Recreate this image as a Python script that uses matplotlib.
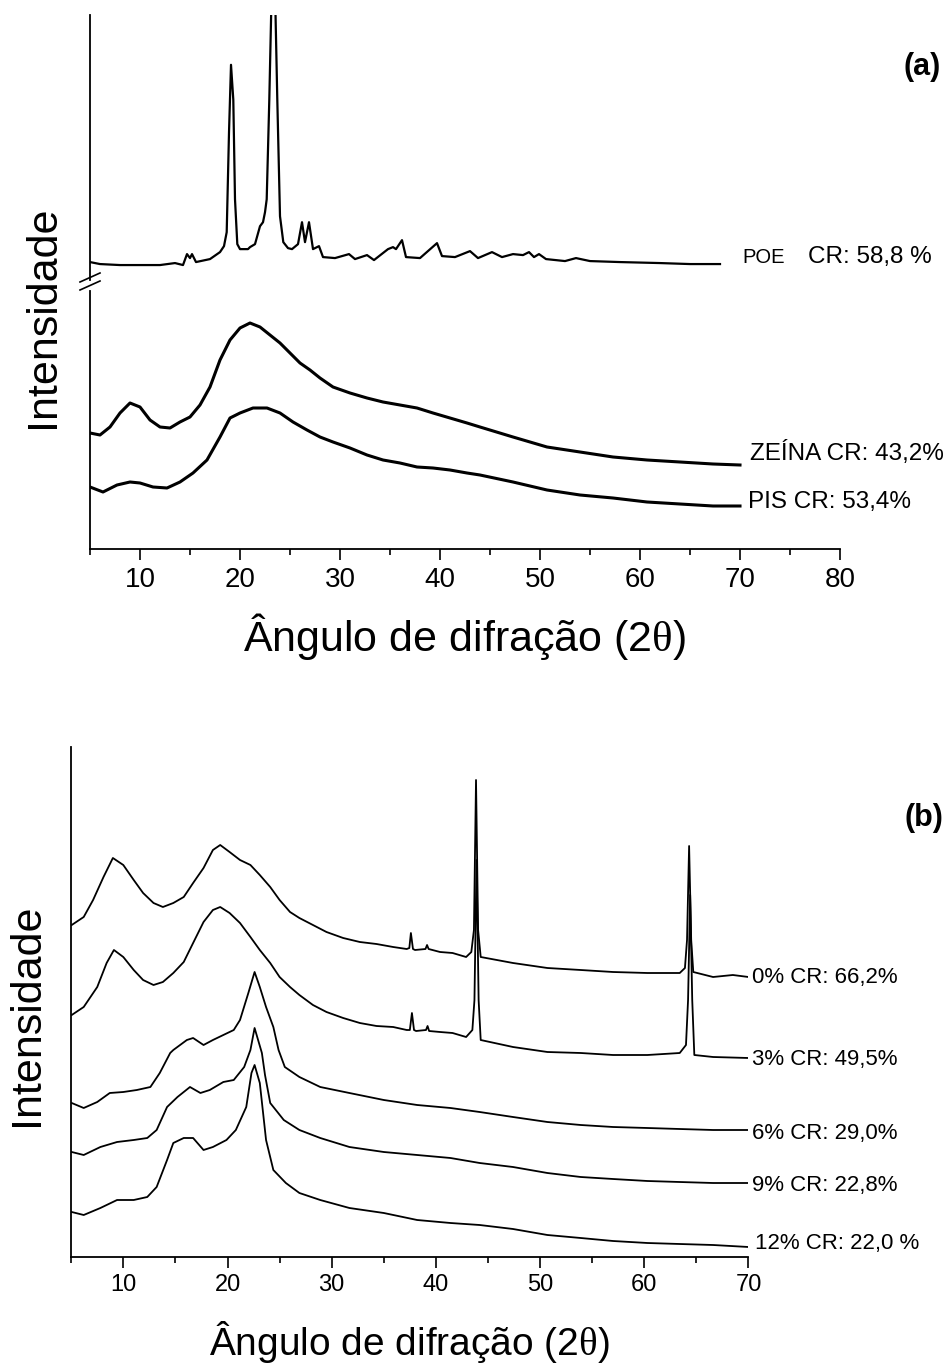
import numpy as np
import matplotlib
matplotlib.use('Agg')
import matplotlib.pyplot as plt
from matplotlib.ticker import MultipleLocator

plt.rcParams['font.family'] = ['Liberation Sans', 'DejaVu Sans']
plt.rcParams['mathtext.fontset'] = 'custom'
plt.rcParams['mathtext.rm'] = 'Liberation Serif'
plt.rcParams['mathtext.it'] = 'Liberation Serif'

# ---- panel (a) data, intensity in arbitrary units ----
poe_x = [5, 6, 8, 10, 12, 13.5, 14.3, 14.7, 15.0, 15.2, 15.6, 17, 18, 18.4, 18.67, 18.9, 19.1, 19.33,
         19.5, 19.73, 20.0, 20.8, 21.0, 21.5, 22.0, 22.3, 22.5, 22.67, 22.93, 23.17, 23.5, 23.73,
         24.0, 24.33, 24.8, 25.2, 25.8, 26.2, 26.5, 26.9, 27.3, 27.9, 28.3, 29.5, 30.9, 31.5, 32.7,
         33.4, 34.8, 35.3, 35.6, 36.2, 36.6, 38, 39.7, 40.2, 41.5, 43.0, 43.8, 45.2, 46.2, 47.3,
         48.3, 48.9, 49.4, 49.9, 50.6, 52.5, 53.6, 55, 58, 62, 65, 68]
poe_y = [286, 284, 283, 283, 283, 285, 283, 294, 290, 294, 286, 289, 296, 302, 316, 416, 484, 449,
         349, 304, 299, 299, 301, 304, 322, 326, 336, 349, 449, 560, 560, 449,
         332, 306, 300, 299, 304, 326, 306, 326, 299, 302, 291, 290, 294, 289, 293,
         288, 299, 301, 299, 308, 291, 290, 305, 292, 291, 297, 290, 296, 291, 294,
         293, 296, 291, 294, 289, 287, 290, 287, 286, 285, 284, 284]

zeina_x = [5.0, 6.0, 7.0, 8.0, 9.0, 10, 11, 12, 13, 14, 15, 16, 17, 18, 19, 20, 21, 22, 23, 24, 25,
           26, 27, 28, 29.3, 31, 32.7, 34.3, 36, 37.7, 39.3, 41, 42.7, 44, 47.3, 50.7, 54, 57.3,
           60.7, 64, 67.3, 70]
zeina_y = [116, 114, 122, 136, 146, 142, 129, 122, 121, 127, 132, 144, 162, 189, 209, 221, 226, 222,
           214, 206, 196, 186, 179, 171, 162, 156, 151, 147, 144, 141, 136, 131, 126, 122, 112, 102,
           97, 92, 89, 87, 85, 84]

pis_x = [5, 6.3, 7.7, 9.0, 10, 11.3, 12.7, 14, 15.3, 16.7, 18, 19, 20, 21.3, 22.7, 24, 25.3, 26.7,
         28, 29.3, 31, 32.7, 34.3, 36, 37.7, 39.3, 41, 42.7, 44, 47.3, 50.7, 54, 57.3, 60.7, 64,
         67.3, 70]
pis_y = [62, 57, 64, 67, 66, 62, 61, 67, 76, 89, 112, 131, 136, 141, 141, 136, 127, 119,
         112, 107, 101, 94, 89, 86, 82, 81, 79, 76, 74, 67, 59, 54, 51, 47, 45, 43, 43]

# ---- panel (b) data ----
s0_x = [5.05, 6.2, 7.1, 8.1, 9.0, 10.0, 11.0, 11.9, 12.9, 13.8, 14.8, 15.8, 16.7, 17.7, 18.6, 19.3,
        20.2, 21.2, 22.2, 23.1, 24.1, 25.0, 26.0, 26.9, 28.2, 29.5, 31.1, 32.7, 34.3, 35.9, 37.2,
        37.45, 37.6, 37.8, 38.0, 39.0, 39.15, 39.3, 40.4, 41.6, 42.9, 43.4, 43.65, 43.85, 44.05,
        44.3, 47.4, 50.7, 53.9, 57.0, 60.3, 63.4, 63.9, 64.1, 64.3, 64.5, 64.7, 66.6, 68.5, 70]
s0_y = [332, 340, 357, 380, 399, 392, 377, 364, 354, 350, 354, 360, 374, 389, 407, 412,
        405, 397, 392, 382, 370, 357, 345, 339, 332, 325, 319, 315, 313, 310, 308,
        309, 324, 308, 307, 308, 312, 308, 305, 304, 300, 305, 327, 477, 327,
        300, 294, 289, 287, 285, 284, 284, 289, 317, 411, 317, 285, 280, 282, 280]

s3_x = [5.05, 6.2, 7.5, 8.4, 9.1, 10.0, 11.0, 11.9, 12.9, 13.8, 14.8, 15.8, 16.7, 17.7, 18.6, 19.3,
        20.2, 21.2, 22.2, 23.1, 24.1, 25.0, 26.0, 26.9, 28.2, 29.5, 31.1, 32.7, 34.3, 35.9, 37.2,
        37.5, 37.7, 37.9, 38.1, 39.05, 39.2, 39.35, 40.4, 41.6, 42.9, 43.5, 43.7, 43.9, 44.1,
        44.3, 47.4, 50.7, 53.9, 57.0, 60.3, 63.4, 64.0, 64.2, 64.4, 64.6, 64.8, 66.6, 70]
s3_y = [242, 250, 270, 294, 307, 300, 287, 277, 272, 275, 284, 295, 314, 335, 347, 350,
        344, 334, 320, 307, 294, 280, 270, 262, 252, 245, 239, 234, 231, 230, 227,
        227, 244, 227, 226, 227, 231, 226, 225, 224, 220, 227, 257, 397, 257,
        217, 210, 205, 204, 202, 202, 204, 212, 257, 362, 257, 202, 200, 199]

s6_x = [5.05, 6.2, 7.5, 8.7, 10.0, 11.3, 12.6, 13.5, 14.5, 14.8, 16.1, 16.7, 17.7, 18.6, 19.6, 20.6,
        21.2, 22.0, 22.6, 23.1, 23.7, 24.4, 24.9, 25.5, 26.9, 28.9, 31.7, 35.0, 38.2, 41.4, 44.2,
        47.4, 50.7, 53.9, 57.0, 60.3, 63.4, 66.6, 70]
s6_y = [154, 149, 155, 164, 165, 167, 170, 184, 204, 207, 217, 219, 212, 217, 222, 227,
        237, 264, 285, 270, 250, 230, 207, 190, 180, 170, 164, 157, 152, 149, 145,
        140, 135, 132, 130, 129, 128, 127, 127]

s9_x = [5.05, 6.2, 7.8, 9.4, 11.0, 12.3, 13.2, 14.2, 15.2, 16.4, 17.4, 18.3, 19.6, 20.6, 21.6, 22.2,
        22.6, 23.3, 23.6, 24.1, 25.4, 26.9, 28.9, 31.7, 35.0, 38.2, 41.4, 44.2, 47.4, 50.7, 53.9,
        57.0, 60.3, 63.4, 66.6, 70]
s9_y = [105, 102, 110, 115, 117, 119, 127, 150, 160, 170, 164, 167, 175, 177, 190, 207,
        229, 204, 182, 154, 137, 127, 119, 110, 105, 102, 99, 94, 90, 84, 80,
        78, 76, 75, 74, 74]

s12_x = [5.05, 6.2, 7.8, 9.4, 11.0, 12.3, 13.2, 14.2, 14.8, 15.8, 16.7, 17.7, 18.6, 19.9, 20.8, 21.8,
         22.3, 22.6, 23.1, 23.7, 24.4, 25.6, 26.9, 28.9, 31.7, 35.0, 38.2, 41.4, 44.2, 47.4, 50.7,
         53.9, 57.0, 60.3, 63.4, 66.6, 70]
s12_y = [45, 42, 49, 57, 57, 60, 70, 97, 114, 119, 119, 107, 110, 117, 127, 150,
         184, 192, 174, 117, 87, 74, 64, 57, 49, 44, 37, 34, 32, 28, 22,
         19, 16, 14, 13, 12, 10]

b_labels = ['0% CR: 66,2%', '3% CR: 49,5%', '6% CR: 29,0%', '9% CR: 22,8%', '12% CR: 22,0 %']
b_label_x = [70.3, 70.3, 70.3, 70.3, 70.6]
b_label_y = [280, 197, 124, 72, 14]


def style_axis(ax, xmax, fs, pad):
    ax.set_xlim(5, xmax)
    ax.xaxis.set_major_locator(MultipleLocator(10))
    ax.xaxis.set_minor_locator(MultipleLocator(5))
    ax.set_xticks([t for t in range(10, xmax + 1, 10)])
    ax.tick_params(axis='x', which='major', direction='out', length=8, width=1.2,
                   labelsize=fs, pad=pad)
    ax.tick_params(axis='x', which='minor', direction='out', length=4, width=1.2)
    ax.set_yticks([])
    for s in ['top', 'right']:
        ax.spines[s].set_visible(False)
    for s in ['left', 'bottom']:
        ax.spines[s].set_linewidth(1.3)


fig = plt.figure(figsize=(9.52, 13.67), dpi=100)
W, H = 952.0, 1367.0

# panel (a): broken y axis made from two axes
ax_up = fig.add_axes([90 / W, 1 - 280 / H, 750 / W, 265 / H])
ax_lo = fig.add_axes([90 / W, 1 - 549 / H, 750 / W, 258 / H])

ax_up.plot(poe_x, poe_y, color='black', lw=1.6)
ax_up.set_xlim(5, 80)
ax_up.set_ylim(268, 534)
ax_up.set_xticks([])
ax_up.set_yticks([])
for s in ['top', 'right', 'bottom']:
    ax_up.spines[s].set_visible(False)
ax_up.spines['left'].set_linewidth(1.3)
ax_up.text(70.2, 291, 'POE', fontsize=14.5, va='center', ha='left')
ax_up.text(76.8, 291, 'CR: 58,8 %', fontsize=17.5, va='center', ha='left')

ax_lo.plot(zeina_x, zeina_y, color='black', lw=2.2)
ax_lo.plot(pis_x, pis_y, color='black', lw=2.2)
ax_lo.set_ylim(0, 258)
style_axis(ax_lo, 80, 20, 5)
ax_lo.text(71, 96, 'ZEÍNA CR: 43,2%', fontsize=17.5, va='center', ha='left')
ax_lo.text(70.8, 47, 'PIS CR: 53,4%', fontsize=17.5, va='center', ha='left')

# break marks on the y axis
for y0 in [282, 290]:
    fig.add_artist(plt.Line2D([80 / W, 100 / W], [1 - y0 / H, 1 - (y0 - 9) / H],
                              color='black', lw=1.2))

fig.text(43 / W, 1 - 317 / H, 'Intensidade', rotation=90, fontsize=31,
         ha='center', va='center')
fig.text(464 / W, 1 - 637 / H, 'Ângulo de difração (2$\\theta$)', fontsize=31,
         ha='center', va='center')
fig.text(941 / W, 1 - 67 / H, '(a)', fontsize=22, fontweight='bold', ha='right', va='center')

# panel (b)
ax_b = fig.add_axes([71.2 / W, 1 - 1257 / H, 677.3 / W, 510 / H])
for xs, ys in [(s0_x, s0_y), (s3_x, s3_y), (s6_x, s6_y), (s9_x, s9_y), (s12_x, s12_y)]:
    ax_b.plot(xs, ys, color='black', lw=1.3)
ax_b.set_ylim(0, 510)
style_axis(ax_b, 70, 17, 4)
for lab, lx, ly in zip(b_labels, b_label_x, b_label_y):
    ax_b.text(lx, ly, lab, fontsize=16, va='center', ha='left')

fig.text(27 / W, 1 - 1015 / H, 'Intensidade', rotation=90, fontsize=31,
         ha='center', va='center')
fig.text(409 / W, 1 - 1342 / H, 'Ângulo de difração (2$\\theta$)', fontsize=28,
         ha='center', va='center')
fig.text(943 / W, 1 - 818 / H, '(b)', fontsize=22, fontweight='bold', ha='right', va='center')

plt.savefig('out.png', dpi=100)
